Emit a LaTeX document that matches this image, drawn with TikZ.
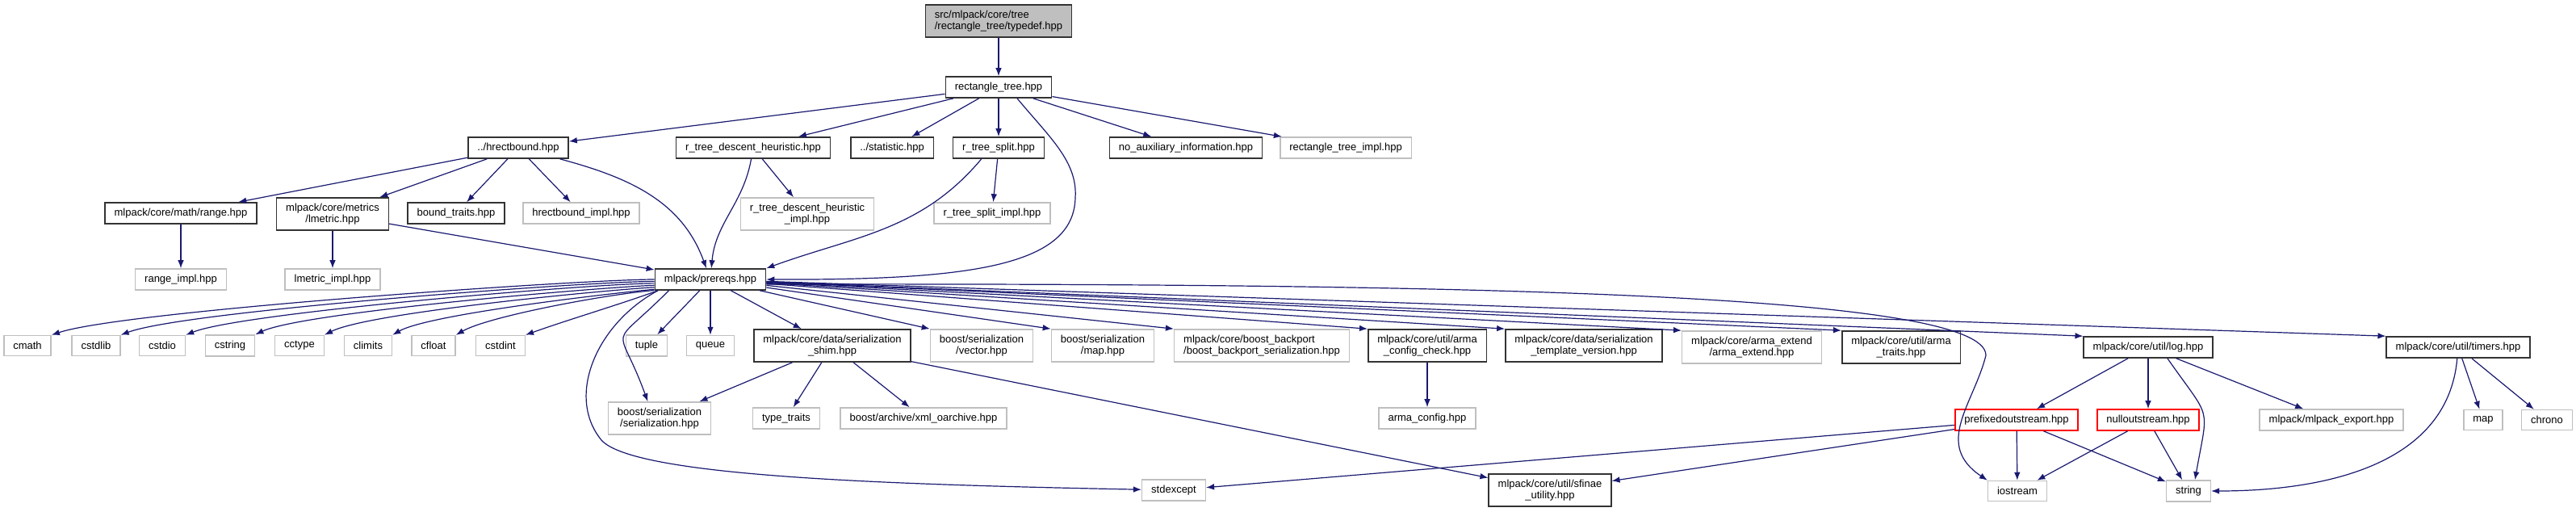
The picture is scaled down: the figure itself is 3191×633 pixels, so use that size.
\documentclass[tikz,border=0pt]{standalone}
\usepackage{fontspec}
\setmainfont{Liberation Sans}
\usepackage{tikz}
\usetikzlibrary{arrows.meta}
\definecolor{edgeblue}{HTML}{191970}
\tikzset{
  box/.style={rectangle,draw,line width=0.75pt,font=\fontsize{6.5}{7}\selectfont,align=center,minimum height=12.5pt,inner xsep=5.75pt,inner ysep=3.5pt},
  doc/.style={box,draw=black!80,fill=white},
  ext/.style={box,draw=black!25,fill=white},
  trunc/.style={box,draw=red,fill=white},
  root/.style={box,draw=black!80,fill=black!25,align=left},
  edge/.style={-{Latex[length=5pt,width=3.8pt]},line width=0.6pt,draw=edgeblue,fill=none}
}

\begin{document}
\begin{tikzpicture}[x=0.5pt,y=-0.5pt]
\useasboundingbox (0,0) rectangle (3191,633);
% include graph of typedef.hpp
\node[root] (td) at (1237,26) {src/mlpack/core/tree\\/rectangle\_tree/typedef.hpp};
\node[doc] (rt) at (1237,108) {rectangle\_tree.hpp};
\node[doc] (hb) at (642,183) {../hrectbound.hpp}; \node[doc] (rtdh) at (933,183) {r\_tree\_descent\_heuristic.hpp}; \node[doc] (stat) at (1105,183) {../statistic.hpp};
\node[doc] (rts) at (1237,183) {r\_tree\_split.hpp}; \node[doc] (noaux) at (1469,183) {no\_auxiliary\_information.hpp}; \node[ext] (rtimpl) at (1667,183) {rectangle\_tree\_impl.hpp};
\node[doc] (range) at (224,264) {mlpack/core/math/range.hpp}; \node[doc] (lmetric) at (412,265) {mlpack/core/metrics\\/lmetric.hpp}; \node[doc] (btraits) at (565,264) {bound\_traits.hpp};
\node[ext] (hbimpl) at (720,264) {hrectbound\_impl.hpp}; \node[ext] (rtdhimpl) at (1000,265) {r\_tree\_descent\_heuristic\\\_impl.hpp}; \node[ext] (rtsimpl) at (1229,264) {r\_tree\_split\_impl.hpp};
\node[ext] (rangeimpl) at (224,346) {range\_impl.hpp}; \node[ext] (lmetricimpl) at (412,346) {lmetric\_impl.hpp}; \node[doc] (prereqs) at (880,346) {mlpack/prereqs.hpp};
% row under prereqs
\node[ext] (cmath) at (34,428) {cmath}; \node[ext] (cstdlib) at (119,428) {cstdlib}; \node[ext] (cstdio) at (201,428) {cstdio}; \node[ext] (cstring) at (285,428) {cstring};
\node[ext] (cctype) at (371,428) {cctype}; \node[ext] (climits) at (456,428) {climits}; \node[ext] (cfloat) at (537,428) {cfloat}; \node[ext] (cstdint) at (620,428) {cstdint};
\node[ext] (tuple) at (801,428) {tuple}; \node[ext] (queue) at (880,428) {queue}; \node[doc] (shim) at (1031,428) {mlpack/core/data/serialization\\\_shim.hpp};
\node[ext] (bvector) at (1216,428) {boost/serialization\\/vector.hpp}; \node[ext] (bmap) at (1366,428) {boost/serialization\\/map.hpp};
\node[ext,align=left] (backport) at (1563,428) {mlpack/core/boost\_backport\\/boost\_backport\_serialization.hpp};
\node[doc] (acc) at (1768,428) {mlpack/core/util/arma\\\_config\_check.hpp}; \node[doc] (tmplver) at (1962,428) {mlpack/core/data/serialization\\\_template\_version.hpp};
\node[ext] (armaext) at (2170,430) {mlpack/core/arma\_extend\\/arma\_extend.hpp}; \node[doc] (armatraits) at (2355,430) {mlpack/core/util/arma\\\_traits.hpp};
\node[doc] (log) at (2661,430) {mlpack/core/util/log.hpp}; \node[doc] (timers) at (3045,430) {mlpack/core/util/timers.hpp};
\node[ext] (bser) at (817,518) {boost/serialization\\/serialization.hpp}; \node[ext] (typetraits) at (974,518) {type\_traits}; \node[ext] (xmlo) at (1144,518) {boost/archive/xml\_oarchive.hpp};
\node[ext] (armaconf) at (1768,518) {arma\_config.hpp}; \node[trunc] (prefixed) at (2498,520) {prefixedoutstream.hpp}; \node[trunc] (nullos) at (2661,520) {nulloutstream.hpp};
\node[ext] (mlexport) at (2888,520) {mlpack/mlpack\_export.hpp}; \node[ext] (stdmap) at (3076,520) {map}; \node[ext] (chrono) at (3155,520) {chrono};
\node[ext] (stdexcept) at (1454,607) {stdexcept}; \node[doc] (sfinae) at (1920,607) {mlpack/core/util/sfinae\\\_utility.hpp};
\node[ext] (iostream) at (2499,608) {iostream}; \node[ext] (string) at (2711,608) {string};
% edges
\draw[edge] (td)--(rt);
\draw[edge] (rt)--(hb); \draw[edge] (rt)--(rtdh); \draw[edge] (rt)--(stat); \draw[edge] (rt)--(rts); \draw[edge] (rt)--(noaux); \draw[edge] (rt)--(rtimpl);
\draw[edge] (rt.-31) .. controls (1300,170) and (1335,200) .. (1332,245) .. controls (1330,330) and (1200,347) .. (prereqs.east);
\draw[edge] (hb)--(range); \draw[edge] (hb)--(lmetric); \draw[edge] (hb)--(btraits); \draw[edge] (hb)--(hbimpl); \draw[edge] (hb) to[out=-15,in=110] (prereqs);
\draw[edge] (rtdh) to[out=-100,in=85] (prereqs); \draw[edge] (rtdh)--(rtdhimpl);
\draw[edge] (rts)--(rtsimpl); \draw[edge] (rts.-147) to[out=-130,in=20] (prereqs.north east);
\draw[edge] (range)--(rangeimpl); \draw[edge] (lmetric)--(lmetricimpl); \draw[edge] (lmetric)--(prereqs);
\draw[edge] (prereqs.180) .. controls +(-90,0) and +(90,-30) .. (cmath.north east);
\draw[edge] (prereqs.182) .. controls +(-80,0) and +(80,-30) .. (cstdlib.north east);
\draw[edge] (prereqs.184) .. controls +(-70,0) and +(70,-28) .. (cstdio.north east);
\draw[edge] (prereqs.186) .. controls +(-60,2) and +(60,-28) .. (cstring.north east);
\draw[edge] (prereqs.188) .. controls +(-55,3) and +(55,-28) .. (cctype.north east);
\draw[edge] (prereqs.190) .. controls +(-45,4) and +(45,-26) .. (climits.north east);
\draw[edge] (prereqs.191) .. controls +(-60,5) and +(40,-23) .. (cfloat.north east);
\draw[edge] (prereqs.192) .. controls +(-50,18) and +(50,-18) .. (cstdint.north east);
\draw[edge] (prereqs)--(tuple); \draw[edge] (prereqs)--(queue); \draw[edge] (prereqs)--(shim);
\draw[edge] (prereqs.-165) to[out=-135,in=110,looseness=2] (bser.125);
\draw[edge] (prereqs.-168) .. controls (740,400) and (700,490) .. (745,545) .. controls (785,590) and (1100,600) .. (stdexcept);
\draw[edge] (prereqs.-5) .. controls (1850,350) and (2460,365) .. (2460,440) .. controls (2445,500) and (2395,550) .. (iostream.north west);
\draw[edge] (prereqs)--(bvector.north west); \draw[edge] (prereqs)--(bmap.north west); \draw[edge] (prereqs)--(backport.north west);
\draw[edge] (prereqs)--(acc.north west); \draw[edge] (prereqs)--(tmplver.north west); \draw[edge] (prereqs)--(armaext.north west);
\draw[edge] (prereqs)--(armatraits.north west); \draw[edge] (prereqs)--(log.north west); \draw[edge] (prereqs)--(timers.north west);
\draw[edge] (shim)--(bser); \draw[edge] (shim)--(typetraits); \draw[edge] (shim)--(xmlo); \draw[edge] (shim)--(sfinae);
\draw[edge] (acc)--(armaconf);
\draw[edge] (log)--(prefixed); \draw[edge] (log)--(nullos); \draw[edge] (log)--(mlexport); \draw[edge] (log.-30) to[out=-55,in=80,looseness=1.6] (string.60);
\draw[edge] (timers)--(stdmap); \draw[edge] (timers)--(chrono); \draw[edge] (timers) to[out=-95,in=0] (string);
\draw[edge] (prefixed)--(iostream); \draw[edge] (prefixed)--(string); \draw[edge] (prefixed)--(stdexcept); \draw[edge] (prefixed)--(sfinae);
\draw[edge] (nullos)--(iostream); \draw[edge] (nullos)--(string);
\end{tikzpicture}
\end{document}
